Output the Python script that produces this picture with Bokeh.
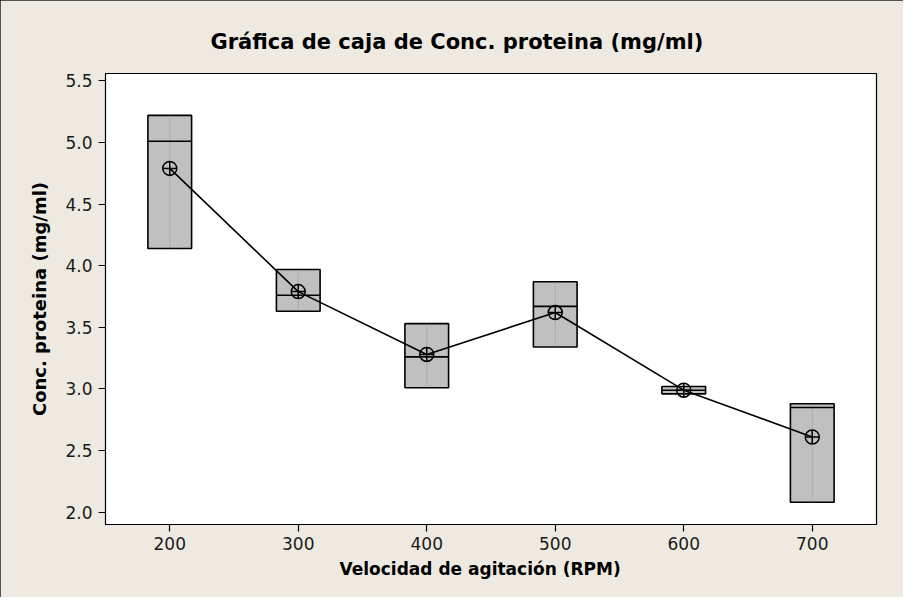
from bokeh.plotting import figure
from bokeh.models import Range1d, FixedTicker, Title, CustomJSTickFormatter
from bokeh.embed import file_html
from bokeh.resources import INLINE

# data
rpm = [200, 300, 400, 500, 600, 700]
q1 = [4.14, 3.63, 3.01, 3.34, 2.96, 2.08]
median = [5.01, 3.76, 3.26, 3.67, 2.99, 2.85]
q3 = [5.22, 3.97, 3.53, 3.87, 3.02, 2.88]
mean = [4.79, 3.79, 3.28, 3.62, 2.99, 2.61]
x_ticks = [200, 300, 400, 500, 600, 700]
y_ticks = [2.0, 2.5, 3.0, 3.5, 4.0, 4.5, 5.0, 5.5]
title_text = "Gráfica de caja de Conc. proteina (mg/ml)"
x_label = "Velocidad de agitación (RPM)"
y_label = "Conc. proteina (mg/ml)"

BG = "#EEEAE1"
FONT = "DejaVu Sans"

p = figure(width=903, height=597, output_backend="svg", toolbar_location=None,
           x_range=Range1d(150, 750), y_range=Range1d(1.90, 5.56),
           min_border_left=105, min_border_right=27, min_border_top=73,
           min_border_bottom=73, background_fill_color="white",
           border_fill_color=BG, outline_line_color="black", outline_line_width=1.2)
p.styles = {"outline": "1px solid #222", "outline-offset": "-1px"}

t = Title(text=title_text, text_font=FONT, text_font_size="21px",
          text_font_style="bold", text_color="black", align="left", offset=105,
          standoff=40)
p.add_layout(t, "above")

p.grid.visible = False
for ax in (p.xaxis, p.yaxis):
    ax.major_label_text_font = FONT
    ax.major_label_text_font_size = "17px"
    ax.major_label_text_color = "#1a1a1a"
    ax.axis_label_text_font = FONT
    ax.axis_label_text_font_style = "bold"
    ax.axis_label_text_color = "black"
    ax.major_tick_in = 0
    ax.major_tick_out = 7
    ax.minor_tick_line_color = None
    ax.axis_line_color = "black"
    ax.major_tick_line_color = "black"
    ax.major_tick_line_width = 1.2

p.xaxis.ticker = FixedTicker(ticks=x_ticks)
p.yaxis.ticker = FixedTicker(ticks=y_ticks)
p.yaxis.formatter = CustomJSTickFormatter(code="return tick.toFixed(1);")
p.yaxis.axis_label = y_label
p.yaxis.axis_label_text_font_size = "18px"
p.xaxis.major_label_standoff = 5
p.yaxis.major_label_standoff = 6
p.yaxis.axis_label_standoff = 12

xl = Title(text=x_label, text_font=FONT, text_font_size="17px",
           text_font_style="bold", text_color="black", align="left", offset=234,
           standoff=9)
p.add_layout(xl, "below")

# boxes
p.vbar(x=rpm, width=34, bottom=q1, top=q3, fill_color="#C0C0C0",
       line_color="black", line_width=1.6)
# faint center line
p.segment(x0=rpm, y0=q1, x1=rpm, y1=q3, line_color="#8a8a8a", line_width=1, line_alpha=0.35)
# medians
p.segment(x0=[x - 17 for x in rpm], y0=median, x1=[x + 17 for x in rpm], y1=median,
          line_color="black", line_width=1.6)
# mean connect line
p.line(rpm, mean, line_color="black", line_width=1.6)
p.scatter(rpm, mean, marker="circle_cross", size=14, fill_color=None,
          line_color="black", line_width=1.5)

open("out.html", "w").write(file_html(p, INLINE))
